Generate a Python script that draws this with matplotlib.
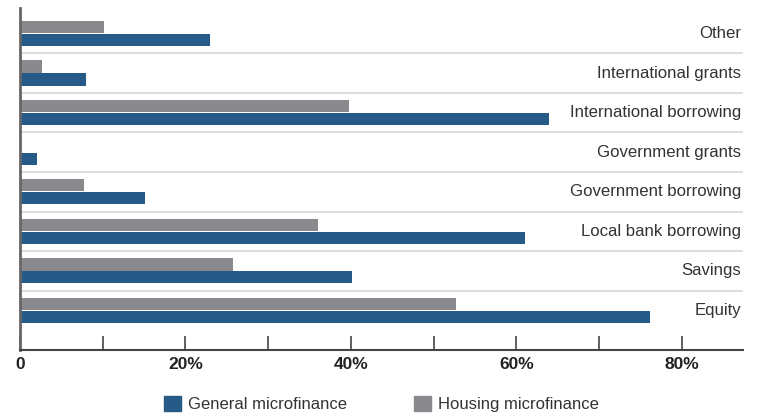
import matplotlib
matplotlib.use("Agg")
import matplotlib.pyplot as plt
from matplotlib.patches import Patch
import numpy as np

categories = ["Equity", "Savings", "Local bank borrowing", "Government borrowing",
              "Government grants", "International borrowing", "International grants", "Other"]
general = [76.1, 40.1, 61.0, 15.1, 2.0, 64.0, 8.0, 23.0]
housing = [52.7, 25.7, 36.0, 7.7, 0.0, 39.8, 2.6, 10.2]
xticks = [0, 10, 20, 30, 40, 50, 60, 70, 80]
xlabels = ["0", "", "20%", "", "40%", "", "60%", "", "80%"]

BLUE = "#265a87"
GRAY = "#8a8a8e"

plt.rcParams["font.family"] = ["Liberation Sans", "DejaVu Sans"]

fig = plt.figure(figsize=(7.57, 4.16), dpi=100)
ax = fig.add_axes([20 / 757, 1 - 350 / 416, 723 / 757, 342 / 416])

y = np.arange(len(categories))
h = 0.31
ax.barh(y + 0.163, housing, height=h, color=GRAY, zorder=2)
ax.barh(y - 0.163, general, height=h, color=BLUE, zorder=2)

for b in y[:-1] + 0.5:
    ax.axhline(b, color="#dddddd", lw=1.5, zorder=1)

for yi, name in zip(y, categories):
    ax.text(0.9975, yi, name, transform=ax.get_yaxis_transform(), ha="right", va="center",
            fontsize=12.1, color="#333333")

ax.set_xlim(0, 87.4)
ax.set_ylim(-1.0, 7.645)
ax.set_yticks([])
ax.set_xticks(xticks)
ax.set_xticklabels(xlabels, fontweight="bold", fontsize=12.5, color="#222222")
ax.tick_params(axis="x", direction="in", length=10, width=1.2, color="#444444", pad=5)
for s in ("top", "right"):
    ax.spines[s].set_visible(False)
ax.spines["left"].set_color("#666666")
ax.spines["left"].set_linewidth(2)
ax.spines["bottom"].set_color("#444444")
ax.spines["bottom"].set_linewidth(1.5)

handles = [Patch(color=BLUE, label="General microfinance"),
           Patch(color=GRAY, label="Housing microfinance")]
fig.legend(handles=handles, loc="center", bbox_to_anchor=(0.504, 12 / 416), ncol=2,
           frameon=False, fontsize=12, handlelength=1.0, handleheight=1.0,
           handletextpad=0.45, columnspacing=4.0, labelcolor="#333333")

fig.savefig("out.png", dpi=100)
